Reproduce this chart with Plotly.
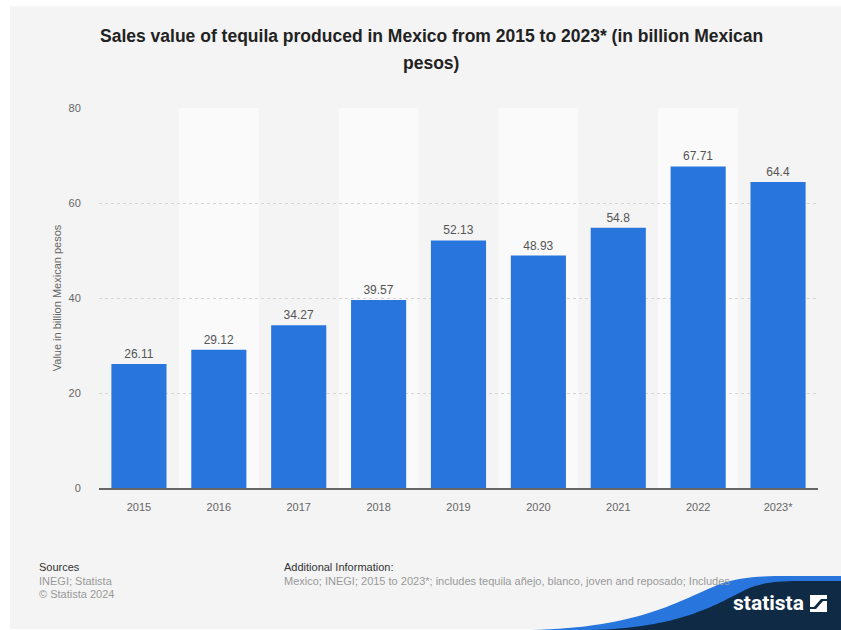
import plotly.graph_objects as go

# Data: sales value of tequila produced in Mexico (billion MXN)
years = ["2015", "2016", "2017", "2018", "2019", "2020", "2021", "2022", "2023*"]
values = [26.11, 29.12, 34.27, 39.57, 52.13, 48.93, 54.8, 67.71, 64.4]
y_ticks = [0, 20, 40, 60, 80]

W, H = 841, 630
# plot area in pixels
L, R, T, B = 99, 818, 108, 488


def fx(x):
    return (x - L) / (R - L)


def fy(y):
    return (B - y) / (B - T)


FONT = "Liberation Sans, Arial, Helvetica, sans-serif"
BLUE = "#2876dd"
NAVY = "#0f2a45"

xs = list(range(len(years)))

fig = go.Figure()
fig.add_trace(go.Bar(
    x=xs, y=values, width=0.69,
    marker=dict(color=BLUE, line=dict(width=0)),
    text=[f"{v:g}" for v in values],
    textposition="outside",
    textfont=dict(family=FONT, size=12, color="#555555"),
    cliponaxis=False,
    hoverinfo="skip",
))

shapes = []
# page panel
shapes.append(dict(type="rect", xref="paper", yref="paper", layer="below",
                   x0=fx(10), x1=fx(841), y0=fy(6), y1=fy(629),
                   fillcolor="#f4f4f4", line=dict(width=0)))
# alternating column bands
for i in xs:
    if i % 2 == 1:
        shapes.append(dict(type="rect", xref="x", yref="paper", layer="below",
                           x0=i - 0.5, x1=i + 0.5, y0=0, y1=1,
                           fillcolor="#fafafa", line=dict(width=0)))


def path(segments):
    """segments: list of (command, [points]); each command gets exactly one group."""
    parts = []
    for cmd, pts in segments:
        parts.append(cmd + " " + " ".join(f"{fx(a):.5f},{fy(b):.5f}" for a, b in pts))
    return " ".join(parts) + " Z"


def poly(points):
    return path([("M", [points[0]])] + [("L", [p]) for p in points[1:]])


# blue wave
shapes.append(dict(type="path", xref="paper", yref="paper", layer="above",
                   path=path([("M", [(530, 630)]),
                              ("C", [(640, 628), (680, 600), (720, 584)]),
                              ("C", [(740, 577), (760, 576), (790, 576)]),
                              ("L", [(841, 576)]),
                              ("L", [(841, 630)])]),
                   fillcolor=BLUE, line=dict(width=0)))
# navy wave
shapes.append(dict(type="path", xref="paper", yref="paper", layer="above",
                   path=path([("M", [(590, 630)]),
                              ("C", [(680, 628), (715, 605), (745, 590)]),
                              ("C", [(760, 583), (775, 581), (800, 581)]),
                              ("L", [(841, 581)]),
                              ("L", [(841, 630)])]),
                   fillcolor=NAVY, line=dict(width=0)))
# logo icon
shapes.append(dict(type="path", xref="paper", yref="paper", layer="above",
                   path=poly([(810, 595), (827, 595), (827, 599), (821, 599),
                              (814, 607), (810, 607)]),
                   fillcolor="white", line=dict(width=0)))
shapes.append(dict(type="path", xref="paper", yref="paper", layer="above",
                   path=poly([(827, 612), (810, 612), (810, 609), (816, 609),
                              (823, 601), (827, 601)]),
                   fillcolor="white", line=dict(width=0)))

annotations = [
    dict(text="<b>Sales value of tequila produced in Mexico from 2015 to 2023* (in billion Mexican</b>",
         x=fx(431), y=fy(36), xanchor="center", yanchor="middle",
         font=dict(family=FONT, size=17.5, color="#222222")),
    dict(text="<b>pesos)</b>",
         x=fx(431), y=fy(63), xanchor="center", yanchor="middle",
         font=dict(family=FONT, size=17.5, color="#222222")),
    dict(text="Sources", x=fx(37), y=fy(567), xanchor="left", yanchor="middle",
         font=dict(family=FONT, size=11, color="#333333")),
    dict(text="INEGI; Statista", x=fx(37), y=fy(581), xanchor="left", yanchor="middle",
         font=dict(family=FONT, size=11, color="#999999")),
    dict(text="© Statista 2024", x=fx(37), y=fy(594), xanchor="left", yanchor="middle",
         font=dict(family=FONT, size=11, color="#999999")),
    dict(text="Additional Information:", x=fx(282), y=fy(567), xanchor="left", yanchor="middle",
         font=dict(family=FONT, size=11, color="#333333")),
    dict(text="Mexico; INEGI; 2015 to 2023*; includes tequila añejo, blanco, joven and reposado; Includes",
         x=fx(282), y=fy(581), xanchor="left", yanchor="middle",
         font=dict(family=FONT, size=11, color="#999999")),
    dict(text="<b>statista</b>", x=fx(806), y=fy(603), xanchor="right", yanchor="middle",
         font=dict(family="Roboto, " + FONT, size=21, color="white")),
]
for a in annotations:
    a.update(xref="paper", yref="paper", showarrow=False)

fig.update_layout(
    width=W, height=H,
    margin=dict(l=L, r=W - R, t=T, b=H - B, pad=0),
    paper_bgcolor="white",
    plot_bgcolor="rgba(0,0,0,0)",
    showlegend=False,
    shapes=shapes,
    annotations=annotations,
    font=dict(family=FONT, color="#666666"),
    xaxis=dict(
        range=[-0.5, len(years) - 0.5],
        tickmode="array", tickvals=xs, ticktext=years,
        showgrid=False, zeroline=False,
        showline=True, linecolor="#666666", linewidth=1.5,
        ticks="outside", ticklen=8, tickcolor="rgba(0,0,0,0)",
        tickfont=dict(family=FONT, size=11, color="#666666"),
        fixedrange=True,
    ),
    yaxis=dict(
        range=[0, 80],
        tickmode="array", tickvals=y_ticks,
        showgrid=True, gridcolor="#d6d6d6", griddash="dot", gridwidth=1,
        zeroline=False, showline=False,
        ticks="outside", ticklen=15, tickcolor="rgba(0,0,0,0)",
        tickfont=dict(family=FONT, size=11, color="#666666"),
        title=dict(text="Value in billion Mexican pesos", standoff=4,
                   font=dict(family=FONT, size=11, color="#666666")),
        fixedrange=True,
    ),
)

fig.write_html("out.html")
